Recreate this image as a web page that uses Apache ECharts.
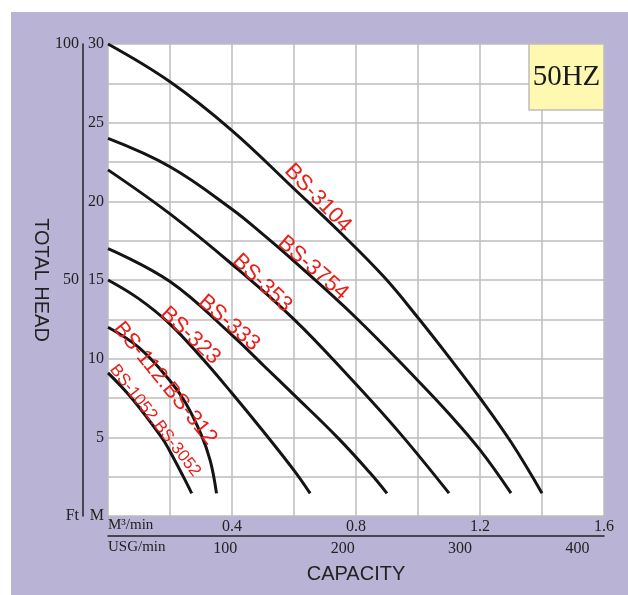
<!DOCTYPE html>
<html>
<head>
<meta charset="utf-8">
<script src="https://cdn.jsdelivr.net/npm/echarts@6/dist/echarts.min.js"></script>
<style>
html,body{margin:0;padding:0;background:#fff;}
#c{width:628px;height:595px;}
</style>
</head>
<body>
<div id="c"></div>
<script>
// Pump curves: [capacity m3/min, head m]
const bs3104 = [[0,30],[0.2,27.6],[0.4,24.5],[0.6,20.8],[0.75,18.0],[0.89,15.2],[1.0,12.6],[1.1,10.1],[1.2,7.5],[1.3,4.7],[1.4,1.45]];
const bs3754 = [[0,24.0],[0.2,22.2],[0.4,19.5],[0.5,17.9],[0.6,16.2],[0.8,12.6],[1.0,8.6],[1.1,6.5],[1.2,4.2],[1.3,1.45]];
const bs353  = [[0,22.0],[0.2,19.2],[0.4,16.0],[0.6,12.5],[0.78,8.8],[0.94,5.3],[1.1,1.45]];
const bs333  = [[0,17.0],[0.2,14.9],[0.4,11.5],[0.5,9.6],[0.6,7.7],[0.74,5.0],[0.845,2.75],[0.9,1.44]];
const bs323  = [[0,15.0],[0.1,13.8],[0.2,12.2],[0.3,10.1],[0.4,7.8],[0.5,5.4],[0.6,2.9],[0.652,1.44]];
const bs112  = [[0,12.0],[0.1,10.7],[0.2,8.6],[0.25,7.2],[0.3,5.2],[0.33,3.5],[0.35,1.44]];
const bs1052 = [[0,9.1],[0.076,7.5],[0.173,5.0],[0.2,4.1],[0.243,2.5],[0.27,1.44]];
const curves = [bs3104, bs3754, bs353, bs333, bs323, bs112, bs1052];

// Curve labels: names and anchor points (capacity, head) and text angle
const labelNames = ['BS-3104','BS-3754','BS-353','BS-333','BS-323','BS-112.BS-312','BS-1052.BS-3052'];
const labelAnchors = [[0.677,20.2],[0.661,15.76],[0.497,14.8],[0.39,12.27],[0.265,11.46],[0.184,8.43],[0.152,6.06]];
const labelAngles = [-46,-41,-44,-41,-43,-51,-52];

// Axis tick labels
const ftLabels = {0:'Ft', 15:'50', 30:'100'};
const m3Labels = [0.4, 0.8, 1.2, 1.6];
const USG_PER_M3 = 264.172;

const SERIF = '"Liberation Serif","DejaVu Serif",serif';
const SANS = '"Liberation Sans",Arial,sans-serif';

const chart = echarts.init(document.getElementById('c'), null, {renderer:'canvas'});

const series = curves.map(d => ({
  type:'line', data:d, xAxisIndex:0, yAxisIndex:0,
  smooth:0.4, showSymbol:false, symbol:'none',
  lineStyle:{color:'#141414', width:3}, silent:true, z:3
}));
series.push({
  type:'scatter', xAxisIndex:0, yAxisIndex:0, symbolSize:0, silent:true, z:4,
  itemStyle:{opacity:1},
  data: labelAnchors.map((p,i) => ({
    value:p,
    label:{show:true, position:'inside', formatter:labelNames[i], rotate:labelAngles[i],
      color:'#e8201a', fontFamily:SANS, fontSize: i===6 ? 17 : 22}
  }))
});

chart.setOption({
  animation:false,
  backgroundColor:'#ffffff',
  graphic:[
    {type:'rect', shape:{x:11,y:12,width:617,height:583}, style:{fill:'#b9b3d6'}, z:-10, silent:true},
    {type:'text', left:108, top:518, style:{text:'M³/min', font:'15px '+SERIF, fill:'#222'}, z:10},
    {type:'text', left:108, top:540, style:{text:'USG/min', font:'15px '+SERIF, fill:'#222'}, z:10},
    {type:'text', x:41, y:280, rotation:-Math.PI/2,
      style:{text:'TOTAL HEAD', font:'20px '+SANS, fill:'#222', textAlign:'center', textVerticalAlign:'middle'}, z:10},
    {type:'rect', shape:{x:529,y:44,width:75,height:66}, style:{fill:'#fff8b0', stroke:'#bdbdbd', lineWidth:1.5}, z:10},
    {type:'text', x:566.5, y:77, style:{text:'50HZ', font:'29px '+SERIF, fill:'#1a1a1a', textAlign:'center', textVerticalAlign:'middle'}, z:11}
  ],
  grid:{left:108, top:44, right:24, bottom:79, show:true, backgroundColor:'#ffffff', borderWidth:0},
  xAxis:[
    {type:'value', min:0, max:1.6, interval:0.2, position:'bottom',
      axisLine:{show:false, onZero:false}, axisTick:{show:false},
      splitLine:{show:true, lineStyle:{color:'#bdbdbd', width:1.5}},
      axisLabel:{margin:3, color:'#222', fontFamily:SERIF, fontSize:16,
        formatter:v => m3Labels.some(m => Math.abs(m-v)<1e-6) ? String(v) : ''}},
    {type:'value', min:0, max:1.6*USG_PER_M3, interval:100, position:'bottom', offset:20,
      axisLine:{show:true, onZero:false, lineStyle:{color:'#222', width:1.5}}, axisTick:{show:false},
      splitLine:{show:false}, showMaxLabel:false,
      axisLabel:{margin:5, color:'#222', fontFamily:SERIF, fontSize:16,
        formatter:v => v===0 ? '' : String(v)},
      name:'CAPACITY', nameLocation:'middle', nameGap:28,
      nameTextStyle:{fontFamily:SANS, fontSize:20, color:'#222'}}
  ],
  yAxis:[
    {type:'value', min:0, max:30, interval:2.5, position:'left',
      axisLine:{show:false, onZero:false}, axisTick:{show:false},
      splitLine:{show:true, lineStyle:{color:'#bdbdbd', width:1.5}},
      axisLabel:{margin:4, color:'#222', fontFamily:SERIF, fontSize:16,
        formatter:v => v===0 ? 'M' : (v%5===0 ? String(v) : '')}},
    {type:'value', min:0, max:30, interval:15, position:'left', offset:25,
      axisLine:{show:true, onZero:false, lineStyle:{color:'#222', width:1.5}}, axisTick:{show:false},
      splitLine:{show:false},
      axisLabel:{margin:4, color:'#222', fontFamily:SERIF, fontSize:16,
        formatter:v => ftLabels[v] || ''}}
  ],
  series:series
});
</script>
</body>
</html>
